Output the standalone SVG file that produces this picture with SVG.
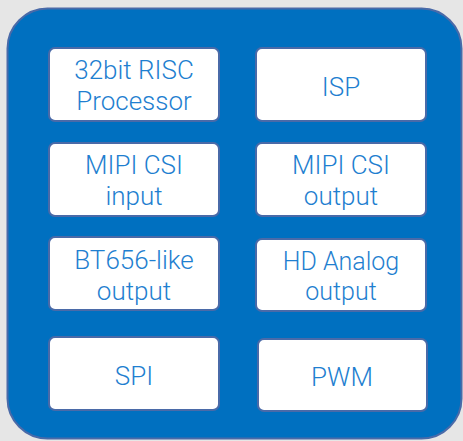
<svg xmlns="http://www.w3.org/2000/svg" width="463" height="441" viewBox="0 0 463 441">
<style>
.box{fill:#ffffff;stroke:#4a6aa8;stroke-width:2}
.t{font-family:Roboto,"Open Sans","Liberation Sans",sans-serif;font-weight:300;fill:#1f7fd0;text-anchor:middle}
.l{font-size:26px}
.s{font-size:25px}
</style>
<rect x="0" y="0" width="463" height="441" fill="#e6e6e6"/>
<rect x="7.5" y="8.5" width="454" height="430" rx="40" fill="#0070c0" stroke="#4a6aa8" stroke-width="2"/>
<g id="risc"><rect class="box" x="49" y="48" width="170" height="73" rx="6"/><text class="t l" x="134" y="79">32bit RISC</text><text class="t l" x="134" y="110">Processor</text></g>
<g id="isp"><rect class="box" x="256" y="48" width="170" height="73" rx="6"/><text class="t l" x="341" y="96">ISP</text></g>
<g id="csi-in"><rect class="box" x="49" y="143" width="170" height="73" rx="6"/><text class="t l" x="134" y="174">MIPI CSI</text><text class="t l" x="134" y="205">input</text></g>
<g id="csi-out"><rect class="box" x="256" y="143" width="170" height="73" rx="6"/><text class="t l" x="341" y="174">MIPI CSI</text><text class="t l" x="341" y="205">output</text></g>
<g id="bt656"><rect class="box" x="49" y="237" width="170" height="73" rx="6"/><text class="t l" x="134" y="269">BT656-like</text><text class="t l" x="134" y="300">output</text></g>
<g id="hd"><rect class="box" x="256" y="239" width="170" height="72" rx="6"/><text class="t s" x="341" y="270">HD Analog</text><text class="t s" x="341" y="300">output</text></g>
<g id="spi"><rect class="box" x="49" y="337" width="170" height="73" rx="6"/><text class="t l" x="134" y="385">SPI</text></g>
<g id="pwm"><rect class="box" x="258" y="339" width="169" height="72" rx="6"/><text class="t l" x="342" y="386">PWM</text></g>
<g id="connectors"/>
</svg>
